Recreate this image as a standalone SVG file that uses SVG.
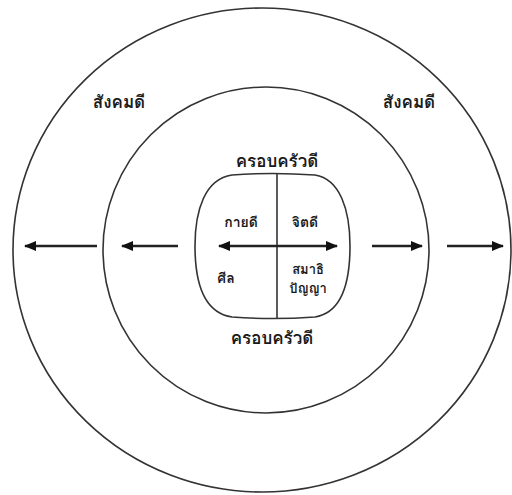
<svg xmlns="http://www.w3.org/2000/svg" width="512" height="495" viewBox="0 0 512 495">
<style>
.ring{fill:none;stroke:#333;stroke-width:1.6}
.ln{fill:none;stroke:#222;stroke-width:2.4}
.t{font-family:"Loma","Garuda","Noto Sans Thai Looped","Noto Sans Thai","Tahoma","DejaVu Sans",sans-serif;fill:#1a1a1a;text-anchor:middle;font-weight:600}
.big{font-size:17px}
.mid{font-size:14px}
.sm{font-size:13px}
</style>
<defs>
<marker id="ah" markerWidth="12" markerHeight="10" refX="11" refY="5" orient="auto-start-reverse" markerUnits="userSpaceOnUse">
<path d="M0,0 L12,5 L0,10 Z" fill="#111"/>
</marker>
</defs>
<rect width="512" height="495" fill="#fff"/>
<g id="society">
<ellipse class="ring" cx="262" cy="250" rx="249" ry="242"/>
<text class="t big" x="119" y="108">สังคมดี</text>
<text class="t big" x="409" y="108">สังคมดี</text>
</g>
<g id="family">
<circle class="ring" cx="266" cy="250" r="163"/>
<text class="t big" x="277" y="167">ครอบครัวดี</text>
<text class="t big" x="272" y="344">ครอบครัวดี</text>
</g>
<g id="self">
<path class="ring" d="M232,175 Q272,172 315,175 C340,179 350,210 350,246 C350,285 340,313 315,317 Q272,320 232,317 C205,313 195,285 195,246 C195,210 205,179 232,175 Z"/>
<line class="ring" x1="277" y1="174" x2="277" y2="318"/>
<text class="t mid" x="241" y="227">กายดี</text>
<text class="t mid" x="305" y="227">จิตดี</text>
<text class="t mid" x="226" y="283">ศีล</text>
<text class="t sm" x="308" y="274">สมาธิ</text>
<text class="t sm" x="308" y="293">ปัญญา</text>
</g>
<g id="connectors">
<line class="ln" x1="219" y1="246" x2="337" y2="246" marker-start="url(#ah)" marker-end="url(#ah)"/>
<line class="ln" x1="97" y1="246" x2="25" y2="246" marker-end="url(#ah)"/>
<line class="ln" x1="178" y1="246" x2="122" y2="246" marker-end="url(#ah)"/>
<line class="ln" x1="372" y1="246" x2="422" y2="246" marker-end="url(#ah)"/>
<line class="ln" x1="447" y1="246" x2="503" y2="246" marker-end="url(#ah)"/>
</g>
</svg>
